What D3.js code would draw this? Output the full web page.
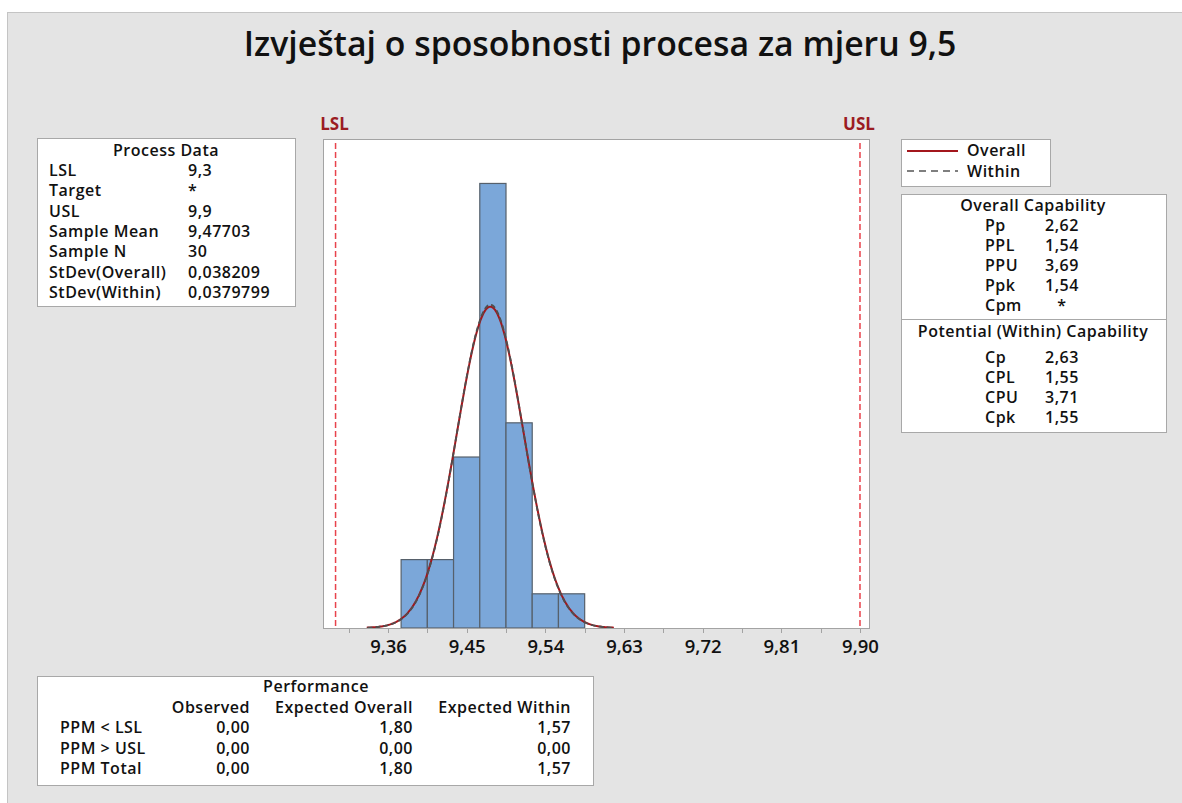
<!DOCTYPE html>
<html>
<head>
<meta charset="utf-8">
<script src="https://cdn.jsdelivr.net/npm/d3@7"></script>
<style>
  body { margin: 0; background: #ffffff; }
  svg text { font-family: "Open Sans", "Noto Sans", sans-serif; fill: #111; }
</style>
</head>
<body>
<svg id="chart" width="1182" height="803"></svg>
<script>
// Chart data
const chartTitle = "Izvještaj o sposobnosti procesa za mjeru 9,5";
const binEdges = [9.375, 9.405, 9.435, 9.465, 9.495, 9.525, 9.555, 9.585];
const binCounts = [2, 2, 5, 13, 6, 1, 1];
const tickValues = [9.36, 9.45, 9.54, 9.63, 9.72, 9.81, 9.90];
const minorTicks = [9.315, 9.36, 9.405, 9.45, 9.495, 9.54, 9.585, 9.63, 9.675, 9.72, 9.765, 9.81, 9.855, 9.9];
const lsl = 9.3;
const usl = 9.9;
const sampleMean = 9.47703;
const sampleN = 30;
const sdOverall = 0.038209;
const sdWithin = 0.0379799;

const processLabels = ["LSL", "Target", "USL", "Sample Mean", "Sample N", "StDev(Overall)", "StDev(Within)"];
const processValues = ["9,3", "*", "9,9", "9,47703", "30", "0,038209", "0,0379799"];
const overallLabels = ["Pp", "PPL", "PPU", "Ppk", "Cpm"];
const overallValues = ["2,62", "1,54", "3,69", "1,54", "*"];
const withinLabels = ["Cp", "CPL", "CPU", "Cpk"];
const withinValues = ["2,63", "1,55", "3,71", "1,55"];
const perfHeaders = ["Observed", "Expected Overall", "Expected Within"];
const perfLabels = ["PPM < LSL", "PPM > USL", "PPM Total"];
const perfObserved = ["0,00", "0,00", "0,00"];
const perfOverall = ["1,80", "0,00", "1,80"];
const perfWithin = ["1,57", "0,00", "1,57"];

const svg = d3.select("#chart");
const fmt = (v) => d3.format(".2f")(v).replace(".", ",");

// background panel
svg.append("rect")
  .attr("x", 7.5).attr("y", 12.5).attr("width", 1180).attr("height", 800)
  .attr("fill", "#e4e4e4").attr("stroke", "#c4c4c4");

svg.append("text")
  .attr("x", 600).attr("y", 56)
  .attr("text-anchor", "middle")
  .attr("font-size", 33.8).attr("font-weight", 600)
  .text(chartTitle);

// Plot area
const plot = { left: 323, right: 869, top: 139, bottom: 628 };
const x = d3.scaleLinear().domain([9.28563, 9.9103]).range([plot.left, plot.right]);
const y = d3.scaleLinear().domain([0, 14.3]).range([plot.bottom, plot.top]);

svg.append("rect")
  .attr("x", plot.left + 0.5).attr("y", plot.top + 0.5)
  .attr("width", plot.right - plot.left).attr("height", plot.bottom - plot.top)
  .attr("fill", "#fff").attr("stroke", "#a3a3a3");

// Histogram bars
const bins = binCounts.map((c, i) => ({ x0: binEdges[i], x1: binEdges[i + 1], count: c }));
svg.selectAll(".bar")
  .data(bins)
  .enter()
  .append("rect")
  .attr("class", "bar")
  .attr("x", (d) => x(d.x0))
  .attr("y", (d) => y(d.count))
  .attr("width", (d) => x(d.x1) - x(d.x0))
  .attr("height", (d) => y(0) - y(d.count))
  .attr("fill", "#7ba7d9")
  .attr("stroke", "#56606b")
  .attr("stroke-width", 1.2);

// Normal curves (scaled to counts)
const binWidth = binEdges[1] - binEdges[0];
function curvePoints(sd) {
  const pts = [];
  const lo = sampleMean - 3.7 * sd, hi = sampleMean + 3.7 * sd;
  for (let i = 0; i <= 200; i++) {
    const v = lo + (hi - lo) * i / 200;
    const z = (v - sampleMean) / sd;
    pts.push([v, sampleN * binWidth * Math.exp(-0.5 * z * z) / (sd * Math.sqrt(2 * Math.PI))]);
  }
  return pts;
}
const line = d3.line().x((d) => x(d[0])).y((d) => y(d[1]));

svg.append("path")
  .attr("d", line(curvePoints(sdOverall)))
  .attr("fill", "none").attr("stroke", "#a3161c").attr("stroke-width", 2);
svg.append("path")
  .attr("d", line(curvePoints(sdWithin)))
  .attr("fill", "none").attr("stroke", "#4f4f4f").attr("stroke-width", 1.8)
  .attr("stroke-dasharray", "5,3");

// Spec limit lines
[[lsl, "LSL"], [usl, "USL"]].forEach(([v, name]) => {
  svg.append("line")
    .attr("x1", x(v)).attr("x2", x(v))
    .attr("y1", plot.top + 4).attr("y2", plot.bottom)
    .attr("stroke", "#e8434c").attr("stroke-width", 1.5)
    .attr("stroke-dasharray", "6,3");
  svg.append("text")
    .attr("x", x(v) - 1).attr("y", 130)
    .attr("text-anchor", "middle")
    .attr("font-size", 17).attr("font-weight", 700)
    .style("fill", "#9b1c22")
    .text(name);
});

// X axis
svg.append("line")
  .attr("x1", plot.left).attr("x2", plot.right + 1)
  .attr("y1", plot.bottom + 0.5).attr("y2", plot.bottom + 0.5)
  .attr("stroke", "#a3a3a3");
svg.selectAll(".minor")
  .data(minorTicks)
  .enter()
  .append("line")
  .attr("x1", (d) => Math.round(x(d)) + 0.5).attr("x2", (d) => Math.round(x(d)) + 0.5)
  .attr("y1", plot.bottom).attr("y2", plot.bottom + 5)
  .attr("stroke", "#a3a3a3");
const axis = svg.append("g")
  .attr("transform", `translate(0,${plot.bottom})`)
  .call(d3.axisBottom(x).tickValues(tickValues).tickSize(0).tickPadding(12).tickFormat(fmt));
axis.select(".domain").remove();
axis.selectAll("text")
  .attr("font-size", 18.5).attr("font-weight", 600)
  .style("font-family", '"Open Sans", sans-serif')
  .style("fill", "#111");

// Helpers for the text boxes
function box(x0, y0, w, h) {
  svg.append("rect")
    .attr("x", x0 + 0.5).attr("y", y0 + 0.5).attr("width", w).attr("height", h)
    .attr("fill", "#fff").attr("stroke", "#a8a8a8");
}
function label(tx, ty, str, anchor) {
  svg.append("text")
    .attr("x", tx).attr("y", ty)
    .attr("text-anchor", anchor || "start")
    .attr("font-size", 16).attr("font-weight", 600)
    .attr("letter-spacing", 0.5)
    .text(str);
}

// Process Data
box(37, 138, 258, 168);
label(166, 156, "Process Data", "middle");
processLabels.forEach((l, i) => {
  label(49, 176 + i * 20.3, l);
  label(188, 176 + i * 20.3, processValues[i]);
});

// Legend
box(901, 139, 149, 47);
svg.append("line").attr("x1", 907).attr("x2", 958).attr("y1", 151).attr("y2", 151)
  .attr("stroke", "#a3161c").attr("stroke-width", 1.8);
svg.append("line").attr("x1", 907).attr("x2", 958).attr("y1", 171).attr("y2", 171)
  .attr("stroke", "#555").attr("stroke-width", 1.6).attr("stroke-dasharray", "7,5");
label(967, 156, "Overall");
label(967, 177, "Within");

// Capability
box(901, 194, 265, 238);
svg.append("line").attr("x1", 901).attr("x2", 1166).attr("y1", 319.5).attr("y2", 319.5)
  .attr("stroke", "#a8a8a8");
label(1033, 211, "Overall Capability", "middle");
overallLabels.forEach((l, i) => {
  label(985, 231 + i * 20, l);
  label(1062, 231 + i * 20, overallValues[i], "middle");
});
label(1033, 337, "Potential (Within) Capability", "middle");
withinLabels.forEach((l, i) => {
  label(985, 363 + i * 20, l);
  label(1062, 363 + i * 20, withinValues[i], "middle");
});

// Performance
box(37, 676, 556, 109);
label(316, 692, "Performance", "middle");
const perfCols = [250, 413, 571];
perfHeaders.forEach((h, i) => label(perfCols[i], 713, h, "end"));
perfLabels.forEach((l, i) => {
  const ty = 733 + i * 20.5;
  label(60, ty, l);
  label(perfCols[0], ty, perfObserved[i], "end");
  label(perfCols[1], ty, perfOverall[i], "end");
  label(perfCols[2], ty, perfWithin[i], "end");
});
</script>
</body>
</html>
